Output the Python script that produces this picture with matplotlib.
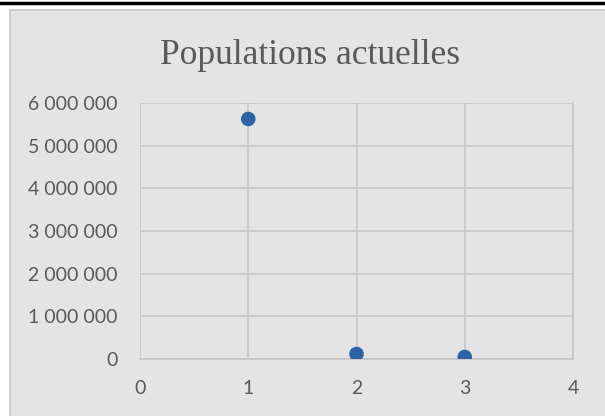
import matplotlib.pyplot as plt
from matplotlib.patches import Rectangle
from matplotlib.lines import Line2D
from matplotlib.ticker import FuncFormatter

# data
x = [1, 2, 3]
population = [5625000, 117000, 47000]

fig = plt.figure(figsize=(6.05, 4.16), dpi=100)
fig.patch.set_facecolor('white')

# chart background box and top black rule
fig.add_artist(Rectangle((10/605, -0.05), 1.1, 1.05 - 10/416, transform=fig.transFigure,
                         facecolor='#e4e4e4', edgecolor='#c8c8c8', lw=1.2, zorder=0))
fig.add_artist(Line2D([0, 1], [1 - 3/416, 1 - 3/416], transform=fig.transFigure,
                      color='black', lw=2.5))

ax = fig.add_axes([140/605, 1 - 359/416, 433/605, 256/416])
ax.set_facecolor('#e4e4e4')
ax.scatter(x, population, s=110, color='#2e62a6', zorder=3, edgecolors='none')

ax.set_xlim(0, 4)
ax.set_ylim(0, 6000000)
ax.set_xticks([0, 1, 2, 3, 4])
ax.set_yticks(range(0, 6000001, 1000000))
ax.yaxis.set_major_formatter(FuncFormatter(lambda v, p: f'{int(v):,}'.replace(',', ' ')))
ax.grid(True, color='#c6c6c6', lw=1.2)
ax.set_axisbelow(True)
for s in ['top', 'left']:
    ax.spines[s].set_visible(False)
ax.spines['right'].set_color('#c6c6c6')
ax.spines['right'].set_linewidth(1.2)
ax.spines['bottom'].set_color('#c6c6c6')
ax.spines['bottom'].set_linewidth(1.2)
ax.tick_params(length=0, labelsize=14, labelcolor='#595959')
ax.tick_params(axis='y', pad=16)
ax.tick_params(axis='x', pad=15)
for lab in ax.get_xticklabels() + ax.get_yticklabels():
    lab.set_fontfamily('Lato')

fig.text(310/605, 1 - 55/416, 'Populations actuelles', ha='center', va='center',
         fontsize=25.5, color='#595959', fontfamily='Liberation Serif')

fig.savefig('out.png', dpi=100, facecolor=fig.get_facecolor())
